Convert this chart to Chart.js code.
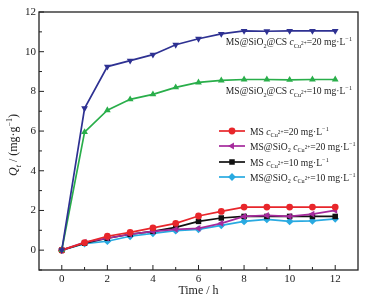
<!DOCTYPE html>
<html>
<head>
<meta charset="utf-8">
<script src="https://cdn.jsdelivr.net/npm/chart.js@4"></script>
<style>
  html, body { margin: 0; padding: 0; background: #fff; }
  #wrap { width: 380px; height: 305px; }
</style>
</head>
<body>
<div id="wrap"><canvas id="myChart"></canvas></div>
<script>
var times = [0, 1, 2, 3, 4, 5, 6, 7, 8, 9, 10, 11, 12];
var csHigh = [0, 7.15, 9.25, 9.55, 9.85, 10.35, 10.65, 10.9, 11.05, 11.03, 11.05, 11.05, 11.05];
var csLow = [0, 5.95, 7.05, 7.6, 7.85, 8.2, 8.45, 8.55, 8.6, 8.6, 8.58, 8.6, 8.6];
var msHigh = [0, 0.38, 0.7, 0.9, 1.12, 1.35, 1.72, 1.95, 2.17, 2.17, 2.17, 2.17, 2.17];
var sioHigh = [0, 0.4, 0.6, 0.8, 0.95, 1.05, 1.1, 1.35, 1.7, 1.75, 1.7, 1.82, 2.0];
var msLow = [0, 0.35, 0.6, 0.8, 0.95, 1.15, 1.45, 1.62, 1.7, 1.7, 1.7, 1.7, 1.7];
var sioLow = [0, 0.33, 0.45, 0.7, 0.85, 0.98, 1.05, 1.25, 1.45, 1.55, 1.45, 1.48, 1.58];
var xTicks = [0, 2, 4, 6, 8, 10, 12];
var yTicks = [0, 2, 4, 6, 8, 10, 12];

var serif = "'Liberation Serif', 'DejaVu Serif', serif";

function pts(vals) {
  return vals.map(function (v, i) { return { x: times[i], y: v }; });
}

function series(label, vals, color, style, rot) {
  return {
    label: label,
    data: pts(vals),
    borderColor: color,
    backgroundColor: color,
    borderWidth: 1.7,
    pointStyle: style,
    pointRotation: rot || 0,
    pointRadius: style === "circle" ? 3.4 : 3.9,
    pointBorderWidth: 0,
    tension: 0,
  };
}

// rich text: runs of {t, i (italic), p: "sub" | "sup" | "subsup"}
function runFont(r, size) {
  var s = size;
  if (r.p === "sub" || r.p === "sup") s = size * 0.65;
  if (r.p === "subsup") s = size * 0.55;
  return (r.i ? "italic " : "") + s + "px " + serif;
}
function richWidth(ctx, runs, size) {
  var w = 0;
  runs.forEach(function (r) {
    ctx.font = runFont(r, size);
    w += ctx.measureText(r.t).width;
  });
  return w;
}
function drawRich(ctx, runs, x, y, size, color) {
  ctx.fillStyle = color || "#222";
  ctx.textBaseline = "alphabetic";
  ctx.textAlign = "left";
  runs.forEach(function (r) {
    var dy = 0;
    if (r.p === "sub") dy = size * 0.3;
    if (r.p === "sup") dy = -size * 0.38;
    if (r.p === "subsup") dy = -size * 0.02;
    ctx.font = runFont(r, size);
    ctx.fillText(r.t, x, y + dy);
    x += ctx.measureText(r.t).width;
  });
  return x;
}

function concRuns(prefix, conc) {
  return prefix.concat([
    { t: " " },
    { t: "c", i: true },
    { t: "Cu", p: "sub" },
    { t: "2+", p: "subsup" },
    { t: "=" + conc + " mg·L" },
    { t: "−1", p: "sup" },
  ]);
}
var msRuns = [{ t: "MS" }];
var sioRuns = [{ t: "MS@SiO" }, { t: "2", p: "sub" }];
var csRuns = [{ t: "MS@SiO" }, { t: "2", p: "sub" }, { t: "@CS" }];

var legendItems = [
  { runs: concRuns(msRuns, 20), ds: 2 },
  { runs: concRuns(sioRuns, 20), ds: 3 },
  { runs: concRuns(msRuns, 10), ds: 4 },
  { runs: concRuns(sioRuns, 10), ds: 5 },
];

var extras = {
  id: "extras",
  afterDraw: function (chart) {
    var ctx = chart.ctx, a = chart.chartArea;
    var x = chart.scales.x, y = chart.scales.y;
    ctx.save();
    ctx.strokeStyle = "#222";
    ctx.lineWidth = 1.3;
    ctx.strokeRect(a.left, a.top, a.right - a.left, a.bottom - a.top);

    // inward ticks
    ctx.lineWidth = 1;
    for (var t = 0; t <= 12; t++) {
      var px = x.getPixelForValue(t);
      var len = t % 2 === 0 ? 5 : 3;
      ctx.beginPath();
      ctx.moveTo(px, a.bottom);
      ctx.lineTo(px, a.bottom - len);
      ctx.stroke();
    }
    for (var v = -1; v <= 12; v++) {
      var py = y.getPixelForValue(v);
      var l2 = v % 2 === 0 ? 5 : 3;
      ctx.beginPath();
      ctx.moveTo(a.left, py);
      ctx.lineTo(a.left + l2, py);
      ctx.stroke();
    }

    // annotations for the CS curves
    var size = 9.6;
    var r1 = concRuns(csRuns, 20);
    drawRich(ctx, r1, 352 - richWidth(ctx, r1, size), 45, size);
    var r2 = concRuns(csRuns, 10);
    drawRich(ctx, r2, 352 - richWidth(ctx, r2, size), 94, size);

    // legend
    var ly = [131, 146, 162, 177];
    legendItems.forEach(function (it, i) {
      var ds = chart.data.datasets[it.ds];
      var yy = ly[i];
      ctx.strokeStyle = ds.borderColor;
      ctx.lineWidth = 1.7;
      ctx.beginPath();
      ctx.moveTo(219, yy);
      ctx.lineTo(245, yy);
      ctx.stroke();
      ctx.fillStyle = ds.backgroundColor;
      Chart.helpers.drawPoint(ctx, {
        pointStyle: ds.pointStyle,
        rotation: ds.pointRotation,
        radius: ds.pointRadius,
        borderWidth: 0,
      }, 232, yy);
      drawRich(ctx, it.runs, 250, yy + 3.5, size);
    });

    // y axis title
    ctx.translate(13, 145);
    ctx.rotate(-Math.PI / 2);
    var yt = [
      { t: "Q", i: true },
      { t: "t", i: true, p: "sub" },
      { t: " / (mg·g" },
      { t: "−1", p: "sup" },
      { t: ")" },
    ];
    var tw = richWidth(ctx, yt, 12);
    drawRich(ctx, yt, -tw / 2, 4, 12);
    ctx.restore();
  },
};

var ctx = document.getElementById("myChart").getContext("2d");
var myChart = new Chart(ctx, {
  type: "line",
  data: {
    datasets: [
      series("MS@SiO2@CS 20", csHigh, "#2E3192", "triangle", 180),
      series("MS@SiO2@CS 10", csLow, "#29AE4A", "triangle", 0),
      series("MS 20", msHigh, "#E8262B", "circle", 0),
      series("MS@SiO2 20", sioHigh, "#A52A9C", "triangle", 270),
      series("MS 10", msLow, "#111111", "rect", 0),
      series("MS@SiO2 10", sioLow, "#29AAE1", "rectRot", 0),
    ],
  },
  options: {
    responsive: true,
    maintainAspectRatio: false,
    animation: false,
    layout: { padding: { left: 0, top: 12, right: 22, bottom: 0 } },
    plugins: {
      legend: { display: false },
      tooltip: { enabled: false },
    },
    scales: {
      x: {
        type: "linear",
        min: -1,
        max: 13,
        afterBuildTicks: function (s) {
          s.ticks = xTicks.map(function (v) { return { value: v }; });
        },
        afterFit: function (s) { s.height = 35; },
        grid: { display: false, drawTicks: false },
        border: { display: false },
        ticks: { color: "#222", padding: 3, font: { family: serif, size: 11 } },
        title: {
          display: true,
          text: "Time / h",
          color: "#222",
          padding: { top: 0, bottom: 7 },
          font: { family: serif, size: 12 },
        },
      },
      y: {
        type: "linear",
        min: -1,
        max: 12,
        afterBuildTicks: function (s) {
          s.ticks = yTicks.map(function (v) { return { value: v }; });
        },
        afterFit: function (s) { s.width = 39; },
        grid: { display: false, drawTicks: false },
        border: { display: false },
        ticks: { color: "#222", padding: 3, font: { family: serif, size: 11 } },
      },
    },
  },
  plugins: [extras],
});
</script>
</body>
</html>
